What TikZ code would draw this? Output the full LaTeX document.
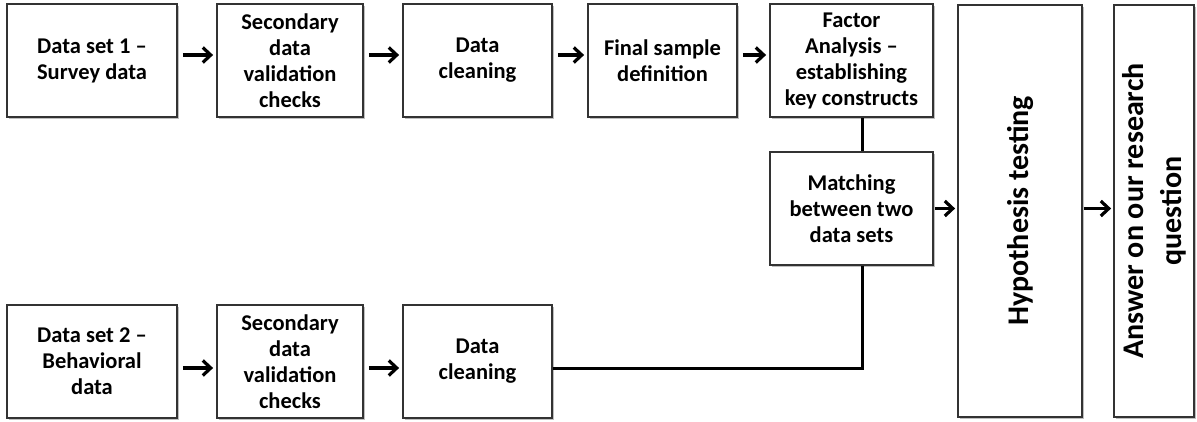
\documentclass[tikz,border=0pt]{standalone}
\usepackage{fontspec}
\setmainfont{Carlito}
\usetikzlibrary{arrows.meta,shadows}
\begin{document}
\begin{tikzpicture}[x=1pt,y=-1pt,
  box/.style={draw=black!80, line width=1.8pt, fill=white, align=center,
    inner sep=0pt, font=\bfseries\fontsize{22.5}{26}\selectfont,
    drop shadow={shadow xshift=1.5pt, shadow yshift=-1.5pt, opacity=0.25, fill=black}},
  vlabel/.style={rotate=90, align=center, font=\bfseries\fontsize{30}{38}\selectfont},
  arr/.style={line width=3.6pt, -{Straight Barb[length=8pt,width=15pt,line width=3.2pt]},
    shorten <=5pt, shorten >=3pt},
  link/.style={line width=3pt}]
\useasboundingbox (0,0) rectangle (1197,421);

% survey branch
\node[box, minimum width=170pt, minimum height=113pt] (d1) at (92,60.5) {Data set 1 --\\Survey data};
\node[box, minimum width=146pt, minimum height=113pt] (s1) at (290,60.5) {Secondary\\data\\validation\\checks};
\node[box, minimum width=149pt, minimum height=113pt] (c1) at (477.5,60.5) {Data\\cleaning};
\node[box, minimum width=149pt, minimum height=113pt] (f1) at (662.5,60.5) {Final sample\\definition};
\node[box, minimum width=163pt, minimum height=113pt] (fa) at (851.5,60.5) {Factor\\Analysis --\\establishing\\key constructs};
\node[box, minimum width=163pt, minimum height=113pt] (m) at (851.5,208.5) {Matching\\between two\\data sets};

% behavioural branch
\node[box, minimum width=170pt, minimum height=113pt] (d2) at (92,361.5) {Data set 2 --\\Behavioral\\data};
\node[box, minimum width=146pt, minimum height=113pt] (s2) at (290,361.5) {Secondary\\data\\validation\\checks};
\node[box, minimum width=149pt, minimum height=113pt] (c2) at (477.5,361.5) {Data\\cleaning};

% final stages
\node[box, minimum width=124pt, minimum height=412pt] (h) at (1020,211) {};
\node[vlabel] (ht) at (h.center) {Hypothesis testing};
\node[box, minimum width=80pt, minimum height=412pt] (a) at (1154,211) {};
\node[vlabel] (at) at (a.center) {Answer on our research\\question};

% connectors
\draw[arr] ([yshift=5.5pt]d1.east) -- ([yshift=5.5pt]s1.west);
\draw[arr] ([yshift=5.5pt]s1.east) -- ([yshift=5.5pt]c1.west);
\draw[arr] ([yshift=5.5pt]c1.east) -- ([yshift=5.5pt]f1.west);
\draw[arr] ([yshift=5.5pt]f1.east) -- ([yshift=5.5pt]fa.west);
\draw[arr] ([yshift=-6.5pt]d2.east) -- ([yshift=-6.5pt]s2.west);
\draw[arr] ([yshift=-6.5pt]s2.east) -- ([yshift=-6.5pt]c2.west);
\draw[link] ([xshift=10.5pt]fa.south) -- ([xshift=10.5pt]m.north);
\draw[link] ([yshift=-6.5pt]c2.east) -| ([xshift=10.5pt]m.south);
\draw[arr, shorten <=1pt, shorten >=2pt] (m.east) -- (m.east -| h.west);
\draw[arr, shorten <=1pt, shorten >=2pt] (h.east |- m.east) -- (a.west |- m.east);
\end{tikzpicture}
\end{document}
